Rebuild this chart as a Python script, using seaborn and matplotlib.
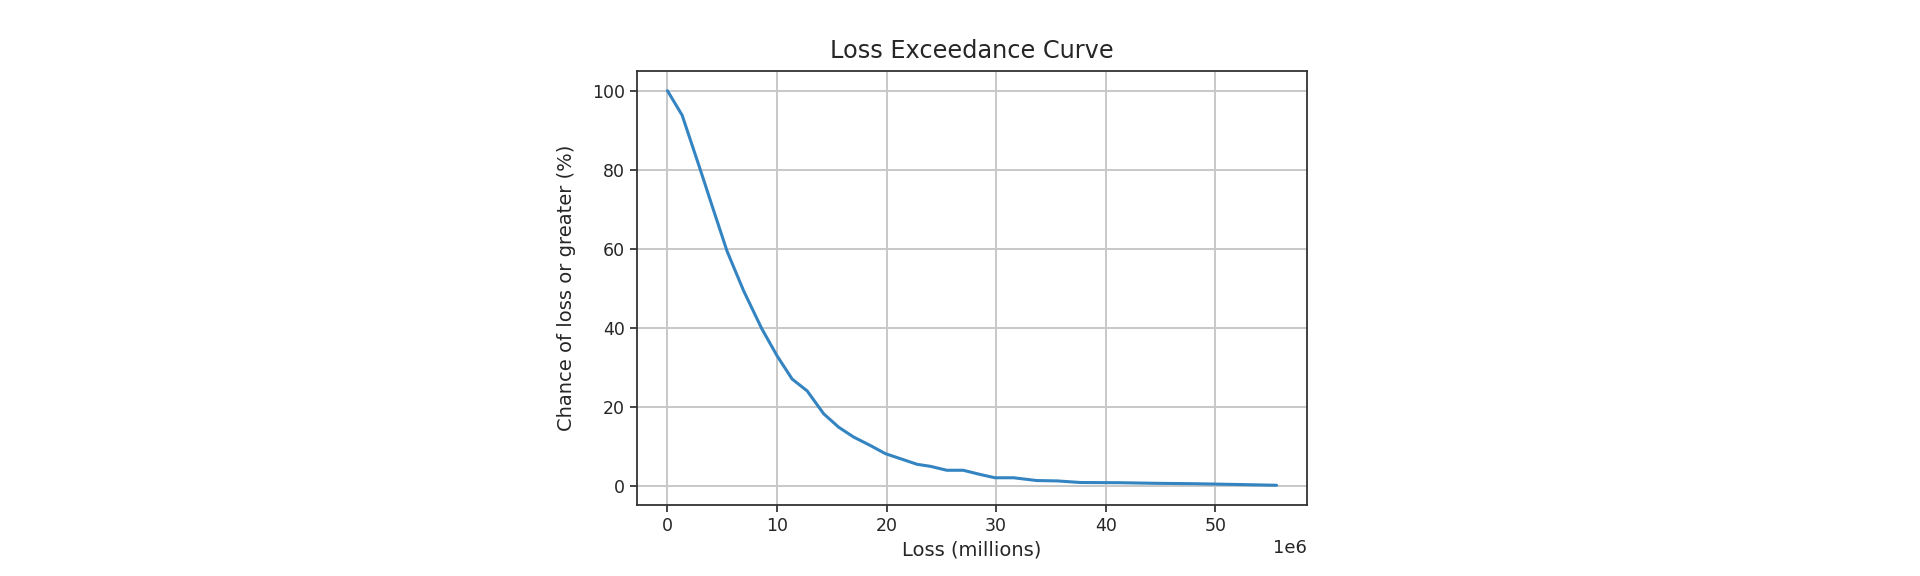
import matplotlib
matplotlib.use("Agg")
import matplotlib.pyplot as plt
import pandas as pd
import seaborn as sns

# Loss values (in millions; axis shows 1e6 offset) and exceedance chance (%)
loss_millions = [0, 1.34, 3.0, 4.2, 5.45, 6.96, 8.6, 10.0, 11.38, 12.75,
                 14.26, 15.63, 17.0, 18.5, 19.9, 21.3, 22.8, 24.0, 25.5, 27.0,
                 28.6, 29.9, 31.6, 33.7, 35.6, 37.7, 41.3, 44.5, 48.0, 52.0, 55.6]
chance_pct = [100, 93.8, 80.0, 69.8, 59.3, 49.3, 39.8, 32.9, 27.0, 24.0,
              18.2, 14.8, 12.3, 10.2, 8.1, 6.8, 5.4, 4.9, 3.9, 3.9,
              2.8, 2.0, 2.0, 1.3, 1.2, 0.8, 0.75, 0.6, 0.5, 0.3, 0.1]

df = pd.DataFrame({
    "loss": [v * 1e6 for v in loss_millions],
    "chance": chance_pct,
})

sns.set_style("ticks")
plt.rcParams.update({
    "font.family": ["DejaVu Sans"],
    "text.color": "#262626",
    "axes.labelcolor": "#262626",
    "xtick.color": "#262626",
    "ytick.color": "#262626",
})

fig = plt.figure(figsize=(19.2, 5.76), dpi=100)
ax = fig.add_axes([637 / 1920, 1 - 505 / 576, 670 / 1920, 434 / 576])

sns.lineplot(data=df, x="loss", y="chance", ax=ax, color="#3484c2", linewidth=2.2)

ax.grid(True, color="#c8c8c8", linewidth=1.4)
for spine in ax.spines.values():
    spine.set_visible(True)
    spine.set_color("#333333")
    spine.set_linewidth(1.3)
ax.tick_params(labelsize=12.5, length=5, width=1.2)
ax.ticklabel_format(axis="x", style="sci", scilimits=(6, 6))
ax.xaxis.get_offset_text().set_fontsize(13)

ax.set_title("Loss Exceedance Curve", fontsize=17.3, pad=9)
ax.set_xlabel("Loss (millions)", fontsize=14, labelpad=4)
ax.set_ylabel("Chance of loss or greater (%)", fontsize=14, labelpad=12)

fig.savefig("out.png", dpi=100)
